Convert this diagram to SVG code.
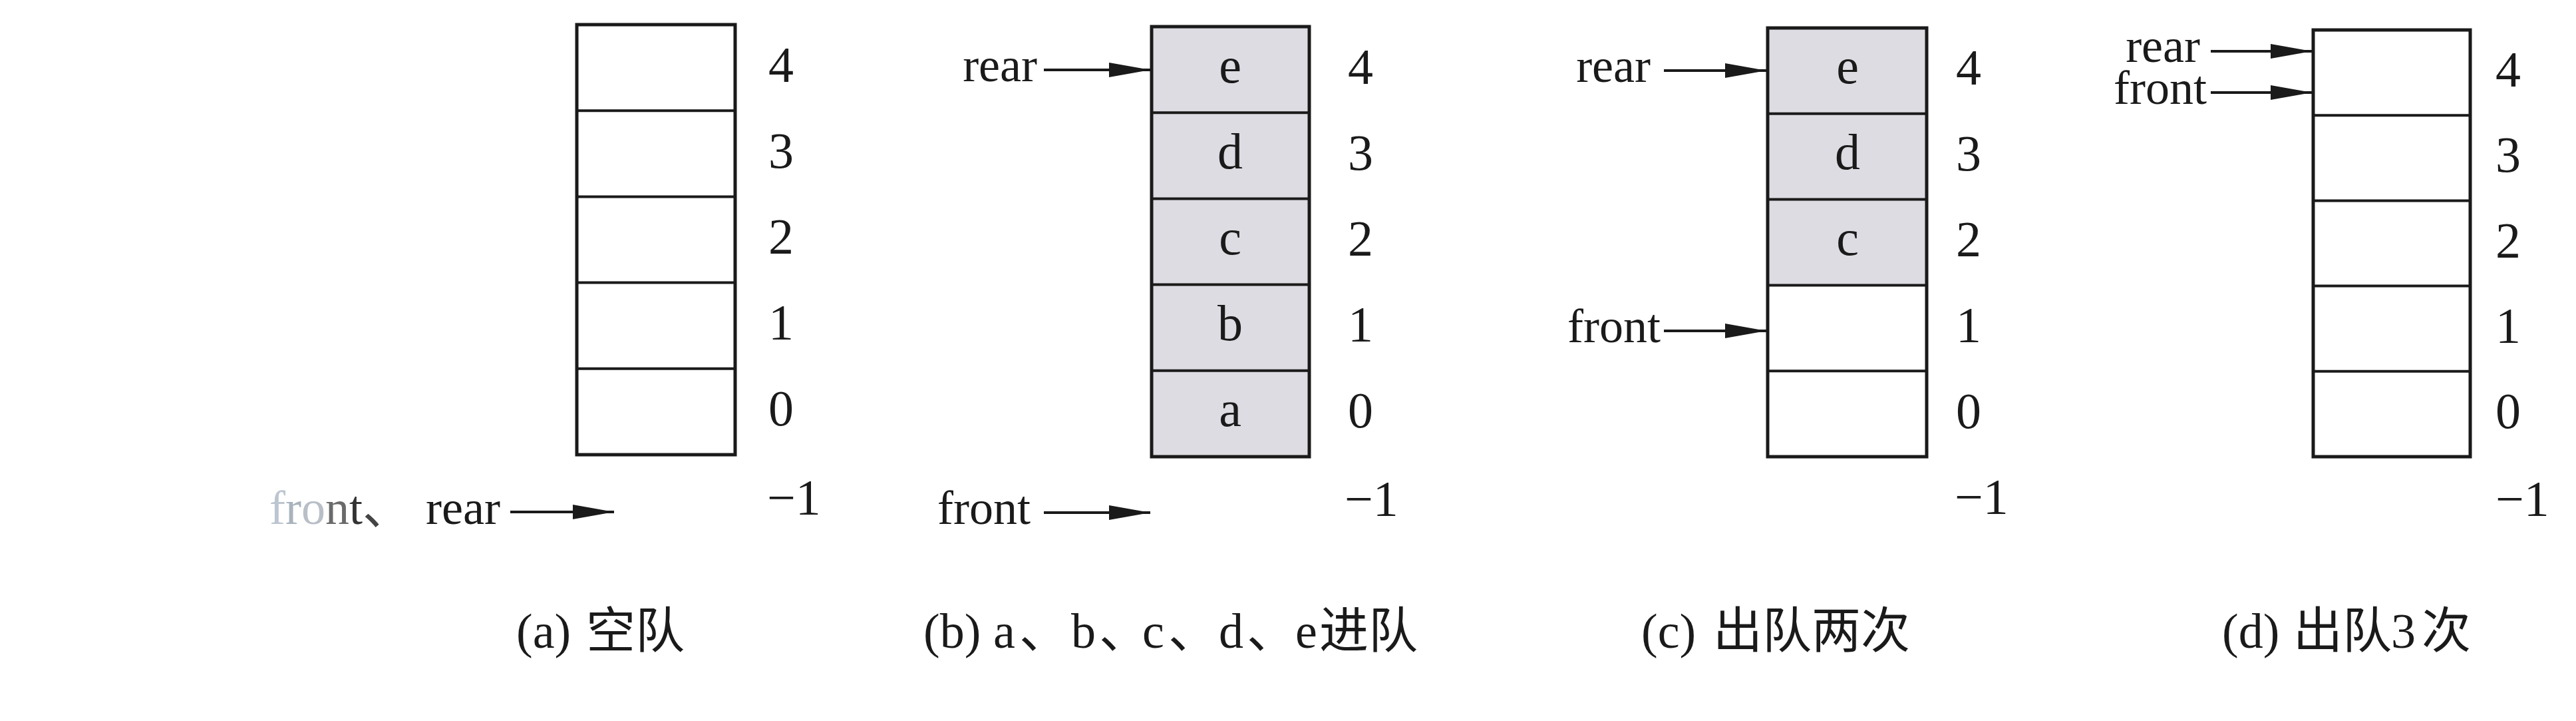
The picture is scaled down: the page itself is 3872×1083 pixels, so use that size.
<svg xmlns="http://www.w3.org/2000/svg" width="3872" height="1083" viewBox="0 0 3872 1083">
<style>
.box{fill:none;stroke:#1a1a1a;stroke-width:5}
.div{stroke:#1a1a1a;stroke-width:4}
.shade{fill:#dcdce2;stroke:none}
.idx{font-family:"Liberation Serif","Times New Roman",serif;font-size:76px;fill:#1a1a1a}
.val{font-family:"Liberation Serif","Times New Roman",serif;font-size:76px;fill:#1a1a1a;text-anchor:middle}
.lbl{font-family:"Liberation Serif","Times New Roman",serif;font-size:72px;fill:#1a1a1a}
.cap{font-family:"Liberation Serif","Noto Sans CJK SC",serif;font-size:74px;fill:#1a1a1a}
.cjk{font-family:"Noto Sans CJK SC",sans-serif}
.arr{stroke:#1a1a1a;stroke-width:4;fill:none;marker-end:url(#ah)}
</style>
<defs>
<marker id="ah" viewBox="0 0 62 22" refX="62" refY="11" markerWidth="62" markerHeight="22" markerUnits="userSpaceOnUse" orient="auto">
<path d="M0,0 L62,11 L0,22 Z" fill="#1a1a1a"/>
</marker>
</defs>
<rect width="3872" height="1083" fill="#ffffff"/>

<!-- Panel (a) -->
<g id="queue-a">
<rect class="box" x="867" y="37" width="238" height="646"/>
<line class="div" x1="867" y1="166.2" x2="1105" y2="166.2"/>
<line class="div" x1="867" y1="295.4" x2="1105" y2="295.4"/>
<line class="div" x1="867" y1="424.6" x2="1105" y2="424.6"/>
<line class="div" x1="867" y1="553.8" x2="1105" y2="553.8"/>
<text class="idx" x="1155" y="123">4</text>
<text class="idx" x="1155" y="252">3</text>
<text class="idx" x="1155" y="381">2</text>
<text class="idx" x="1155" y="510">1</text>
<text class="idx" x="1155" y="639">0</text>
<text class="idx" x="1153" y="773">−1</text>
</g>

<!-- Panel (b) -->
<g id="queue-b">
<rect class="shade" x="1731" y="40" width="237" height="646"/>
<rect class="box" x="1731" y="40" width="237" height="646"/>
<line class="div" x1="1731" y1="169.2" x2="1968" y2="169.2"/>
<line class="div" x1="1731" y1="298.4" x2="1968" y2="298.4"/>
<line class="div" x1="1731" y1="427.6" x2="1968" y2="427.6"/>
<line class="div" x1="1731" y1="556.8" x2="1968" y2="556.8"/>
<text class="val" x="1849" y="124">e</text>
<text class="val" x="1849" y="253">d</text>
<text class="val" x="1849" y="382">c</text>
<text class="val" x="1849" y="511">b</text>
<text class="val" x="1849" y="640">a</text>
<text class="idx" x="2026" y="126">4</text>
<text class="idx" x="2026" y="255">3</text>
<text class="idx" x="2026" y="384">2</text>
<text class="idx" x="2026" y="513">1</text>
<text class="idx" x="2026" y="642">0</text>
<text class="idx" x="2021" y="775">−1</text>
</g>

<!-- Panel (c) -->
<g id="queue-c">
<rect class="shade" x="2657" y="42" width="239" height="386.4"/>
<rect class="box" x="2657" y="42" width="239" height="644"/>
<line class="div" x1="2657" y1="170.8" x2="2896" y2="170.8"/>
<line class="div" x1="2657" y1="299.6" x2="2896" y2="299.6"/>
<line class="div" x1="2657" y1="428.4" x2="2896" y2="428.4"/>
<line class="div" x1="2657" y1="557.2" x2="2896" y2="557.2"/>
<text class="val" x="2777" y="125">e</text>
<text class="val" x="2777" y="254">d</text>
<text class="val" x="2777" y="383">c</text>
<text class="idx" x="2940" y="127">4</text>
<text class="idx" x="2940" y="256">3</text>
<text class="idx" x="2940" y="385">2</text>
<text class="idx" x="2940" y="514">1</text>
<text class="idx" x="2940" y="643">0</text>
<text class="idx" x="2938" y="772">−1</text>
</g>

<!-- Panel (d) -->
<g id="queue-d">
<rect class="box" x="3477" y="45" width="236" height="641"/>
<line class="div" x1="3477" y1="173.2" x2="3713" y2="173.2"/>
<line class="div" x1="3477" y1="301.4" x2="3713" y2="301.4"/>
<line class="div" x1="3477" y1="429.6" x2="3713" y2="429.6"/>
<line class="div" x1="3477" y1="557.8" x2="3713" y2="557.8"/>
<text class="idx" x="3751" y="130">4</text>
<text class="idx" x="3751" y="258">3</text>
<text class="idx" x="3751" y="387">2</text>
<text class="idx" x="3751" y="515">1</text>
<text class="idx" x="3751" y="643">0</text>
<text class="idx" x="3751" y="775">−1</text>
</g>

<!-- Pointer labels -->
<g id="labels-a">
<text class="lbl" x="405" y="787"><tspan fill="#bcc6d0">f</tspan><tspan fill="#a9b3bd">r</tspan><tspan fill="#b9bfc7">o</tspan><tspan fill="#6a6a6a">n</tspan><tspan fill="#333333">t</tspan><tspan fill="#444444" font-family="Noto Sans CJK SC,sans-serif">、</tspan></text>
<text class="lbl" x="640" y="787">rear</text>
</g>
<g id="labels-b">
<text class="lbl" x="1559" y="122" text-anchor="end">rear</text>
<text class="lbl" x="1549" y="787" text-anchor="end">front</text>
</g>
<g id="labels-c">
<text class="lbl" x="2481" y="123" text-anchor="end">rear</text>
<text class="lbl" x="2496" y="514" text-anchor="end">front</text>
</g>
<g id="labels-d">
<text class="lbl" x="3307" y="93" text-anchor="end">rear</text>
<text class="lbl" x="3317" y="156" text-anchor="end">front</text>
</g>

<!-- Connectors -->
<g id="connectors">
<line class="arr" x1="767" y1="769" x2="923" y2="769"/>
<line class="arr" x1="1569" y1="105" x2="1729" y2="105"/>
<line class="arr" x1="1569" y1="770" x2="1729" y2="770"/>
<line class="arr" x1="2501" y1="106" x2="2655" y2="106"/>
<line class="arr" x1="2501" y1="497" x2="2655" y2="497"/>
<line class="arr" x1="3323" y1="77" x2="3475" y2="77"/>
<line class="arr" x1="3323" y1="139" x2="3475" y2="139"/>
</g>

<!-- Captions -->
<g id="caption-a">
<text class="cap" y="973"><tspan x="776">(a)</tspan><tspan class="cjk" x="881">空队</tspan></text>
</g>
<g id="caption-b">
<text class="cap" y="973"><tspan x="1388">(b)</tspan><tspan x="1493">a</tspan><tspan class="cjk" x="1532">、</tspan><tspan x="1610">b</tspan><tspan class="cjk" x="1652">、</tspan><tspan x="1717">c</tspan><tspan class="cjk" x="1756">、</tspan><tspan x="1832">d</tspan><tspan class="cjk" x="1874">、</tspan><tspan x="1947">e</tspan><tspan class="cjk" x="1983">进队</tspan></text>
</g>
<g id="caption-c">
<text class="cap" y="973"><tspan x="2467">(c)</tspan><tspan class="cjk" x="2575">出队两次</tspan></text>
</g>
<g id="caption-d">
<text class="cap" y="973"><tspan x="3340">(d)</tspan><tspan class="cjk" x="3447">出队</tspan><tspan x="3594">3</tspan><tspan class="cjk" x="3640">次</tspan></text>
</g>
</svg>
